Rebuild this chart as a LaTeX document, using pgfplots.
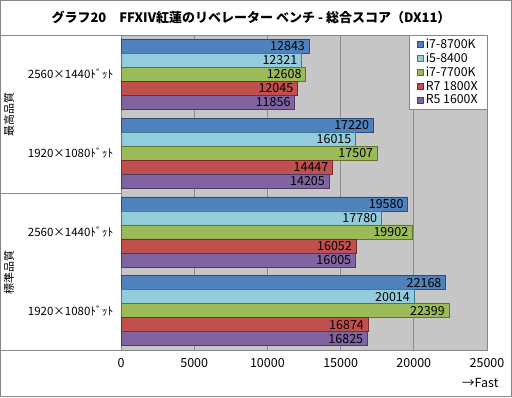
\documentclass[border=0pt]{standalone}
\usepackage{fontspec}
\setmainfont{Noto Sans CJK JP}
\usepackage{pgfplots}
\pgfplotsset{compat=1.18}
\definecolor{cA}{HTML}{4F81BD}\definecolor{eA}{HTML}{2C4D75}
\definecolor{cB}{HTML}{93CDDD}\definecolor{eB}{HTML}{357D91}
\definecolor{cC}{HTML}{9BBB59}\definecolor{eC}{HTML}{5F7530}
\definecolor{cD}{HTML}{C0504D}\definecolor{eD}{HTML}{772C2A}
\definecolor{cE}{HTML}{8064A2}\definecolor{eE}{HTML}{4D3B62}
\definecolor{plotbg}{HTML}{C6C6C6}
\definecolor{gridc}{HTML}{8C8C8C}
\definecolor{framec}{HTML}{868686}
\begin{document}
\begin{tikzpicture}
\useasboundingbox (0,0) rectangle (512pt,-397pt);
\draw[framec,line width=1.2pt] (0.6pt,-0.6pt) rectangle (511.4pt,-396.4pt);
\node[font=\fontsize{13}{15}\selectfont\bfseries] at (251pt,-17pt) {グラフ20\quad FFXIV紅蓮のリベレーター ベンチ - 総合スコア（DX11）};
\begin{axis}[
  at={(121pt,-35pt)}, anchor=north west,
  scale only axis, width=366pt, height=315pt,
  xbar, bar width=0.178,
  xmin=0, xmax=25000, ymin=-0.5, ymax=3.5, y dir=reverse,
  xtick={0,5000,...,25000},
  ytick={0,1,2,3},
  yticklabels={2560×1440ﾄﾞｯﾄ,1920×1080ﾄﾞｯﾄ,2560×1440ﾄﾞｯﾄ,1920×1080ﾄﾞｯﾄ},
  yticklabel style={font=\fontsize{11.5}{13}\selectfont, xshift=-4pt},
  xticklabel style={font=\fontsize{12.5}{14}\selectfont, yshift=-5pt},
  /pgf/number format/1000 sep={},
  /pgf/number format/assume math mode=true,
  scaled x ticks=false,
  major tick length=0pt,
  xmajorgrids, grid style={draw=gridc, line width=0.8pt},
  axis line style={draw=framec, line width=0.8pt},
  axis background/.style={fill=plotbg},
  point meta=x,
  nodes near coords,
  every node near coord/.append style={anchor=east, font=\fontsize{12.5}{14}\selectfont, text=black, xshift=-0.5pt},
  legend style={at={(0.787,1)}, anchor=north west, draw=framec, fill=white,
    font=\fontsize{12.3}{14}\selectfont, inner xsep=8pt, inner ysep=2pt, row sep=-1pt,
    cells={anchor=west}},
  legend image code/.code={\draw[#1, line width=0.6pt] (0pt,-3pt) rectangle (6pt,3pt);},
]
\addplot[fill=cA, draw=eA, line width=0.6pt, bar shift=-0.356] coordinates {(12843,0) (17220,1) (19580,2) (22168,3)};
\addplot[fill=cB, draw=eB, line width=0.6pt, bar shift=-0.178] coordinates {(12321,0) (16015,1) (17780,2) (20014,3)};
\addplot[fill=cC, draw=eC, line width=0.6pt, bar shift=0] coordinates {(12608,0) (17507,1) (19902,2) (22399,3)};
\addplot[fill=cD, draw=eD, line width=0.6pt, bar shift=0.178] coordinates {(12045,0) (14447,1) (16052,2) (16874,3)};
\addplot[fill=cE, draw=eE, line width=0.6pt, bar shift=0.356] coordinates {(11856,0) (14205,1) (16005,2) (16825,3)};
\legend{i7-8700K,i5-8400,i7-7700K,R7 1800X,R5 1600X}
\end{axis}
\draw[framec, line width=0.8pt] (1pt,-35pt) -- (121pt,-35pt);
\draw[framec, line width=0.8pt] (1pt,-193pt) -- (121pt,-193pt);
\draw[framec, line width=0.8pt] (1pt,-350pt) -- (121pt,-350pt);
\node[rotate=90, font=\fontsize{11}{13}\selectfont] at (9pt,-114pt) {最高品質};
\node[rotate=90, font=\fontsize{11}{13}\selectfont] at (9pt,-272pt) {標準品質};
\node[anchor=east, font=\fontsize{12.5}{14}\selectfont] at (502pt,-383pt) {→Fast};
\end{tikzpicture}
\end{document}
